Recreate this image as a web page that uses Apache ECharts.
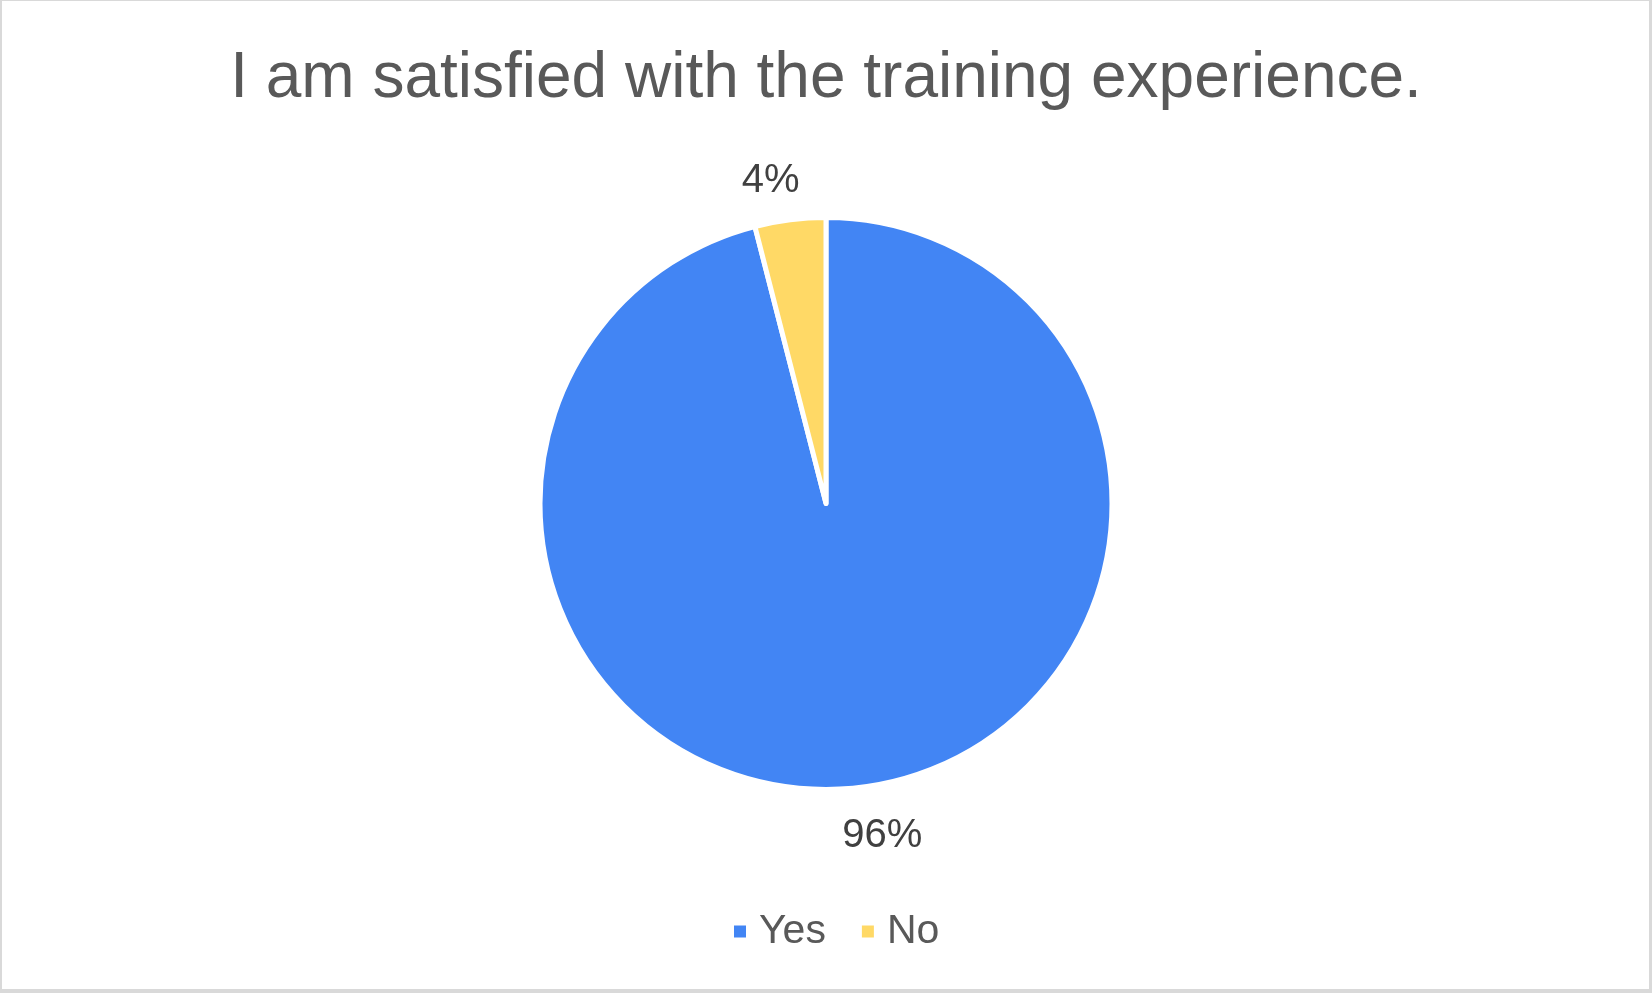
<!DOCTYPE html>
<html>
<head>
<meta charset="utf-8">
<script src="https://cdn.jsdelivr.net/npm/echarts@6/dist/echarts.min.js"></script>
<style>
  html, body { margin: 0; padding: 0; background: #fff; }
  #chart { position: absolute; left: 0; top: 0; width: 1652px; height: 993px; }
  #frame { position: absolute; left: 0; top: 0; width: 1652px; height: 993px; box-sizing: border-box;
           border-style: solid; border-color: #d9d9d9; border-width: 1px 3px 4px 2px; pointer-events: none; }
</style>
</head>
<body>
<div id="chart"></div>
<div id="frame"></div>
<script>
const titleText = 'I am satisfied with the training experience.';
const categories = ['Yes', 'No'];
const values = [96, 4];
const colors = ['#4285F4', '#FFD966'];
const labelShiftX = [-25, 15];

const FONT = '"Liberation Sans", Arial, sans-serif';
const chart = echarts.init(document.getElementById('chart'));
chart.setOption({
  backgroundColor: '#ffffff',
  animation: false,
  title: {
    text: titleText,
    left: 'center',
    top: 42,
    textStyle: { fontFamily: FONT, fontSize: 64, fontWeight: 'normal', color: '#595959' }
  },
  legend: {
    data: categories,
    left: 727,
    top: 906,
    itemWidth: 14,
    itemHeight: 14,
    itemGap: 34,
    icon: 'rect',
    textStyle: { fontFamily: FONT, fontSize: 41, color: '#595959', padding: [0, 0, 0, 7] }
  },
  series: [{
    type: 'pie',
    center: [826, 503.5],
    radius: [0, 286],
    startAngle: 90,
    clockwise: true,
    avoidLabelOverlap: false,
    itemStyle: { borderColor: '#ffffff', borderWidth: 5 },
    label: {
      show: true,
      position: 'outside',
      formatter: '{d}%',
      fontFamily: FONT,
      fontSize: 40,
      color: '#404040',
      distanceToLabelLine: 0
    },
    labelLine: { show: false, length: 44, length2: 0 },
    labelLayout: function (p) { return { dx: labelShiftX[p.dataIndex], dy: 5 }; },
    emphasis: { disabled: true },
    data: categories.map((c, i) => ({ name: c, value: values[i], itemStyle: { color: colors[i] } }))
  }]
});
</script>
</body>
</html>
